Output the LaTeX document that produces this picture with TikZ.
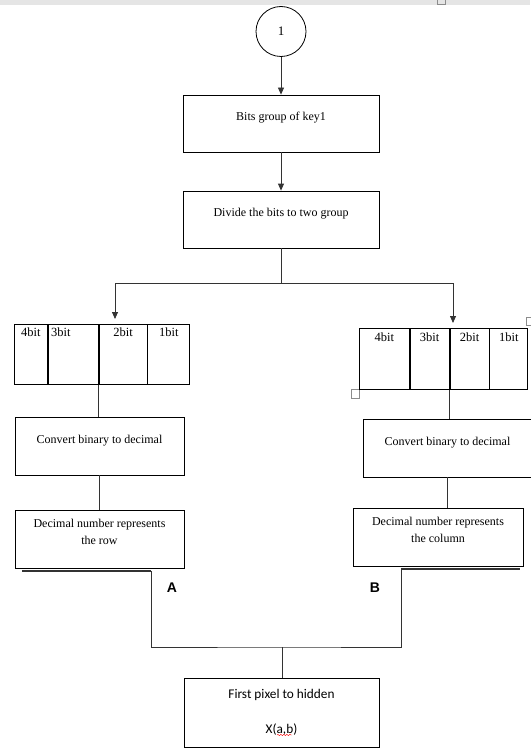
\documentclass[tikz,border=0pt]{standalone}
\usepackage{fontspec}
\setmainfont{Liberation Serif}
\newfontfamily\calibri{Carlito}
\newfontfamily\arialbf{Liberation Sans}
\usetikzlibrary{arrows.meta}
\usetikzlibrary{decorations.pathmorphing}

\begin{document}
\begin{tikzpicture}[x=1pt,y=-1pt,
    box/.style={draw, line width=0.8pt, inner sep=0pt, align=center, font=\fontsize{12}{17}\selectfont, text depth=14pt},
    cell/.style={draw, line width=0.8pt, inner sep=0pt, anchor=north west, minimum height=60pt, text depth=44pt, font=\fontsize{12.5}{14}\selectfont},
    link/.style={line width=0.8pt, draw=black!80},
    arr/.style={link, -{Triangle[width=6pt,length=7pt]}},
    stray/.style={draw=black!45, line width=0.6pt}]
        \useasboundingbox (0,0) rectangle (530,749);
        \fill[black!10] (0,0) rectangle (530,5);
        \draw[stray] (437,-1) rectangle (445,4);
        \draw[stray] (351,389) rectangle (359,398);
        \draw[stray] (526,317) rectangle (532,325);

        % top part
        \node[draw, circle, line width=0.8pt, minimum size=50pt, font=\fontsize{13}{14}\selectfont] (c1) at (281,31.5) {1};
        \node[box, minimum width=196pt, minimum height=57pt] (bits) at (281,123.5) {Bits group of key1};
        \node[box, minimum width=196pt, minimum height=57pt] (divide) at (281,219.5) {Divide the bits to two group};
        \draw[arr] (c1) -- (bits);
        \draw[arr] (bits) -- (divide);

        \coordinate (split) at (281,283);
        \coordinate (lin) at (115,324);
        \coordinate (rin) at (453,328);
        \draw[link] (divide) -- (split);
        \draw[arr, shorten >=5pt] (split) -| (lin);
        \draw[arr, shorten >=5pt] (split) -| (rin);

        % left branch
        \node[cell, minimum width=33pt] (lb4) at (14,324) {4bit};
        \node[cell, minimum width=50pt, text width=44pt, align=left] (lb3) at (lb4.north east) {3bit};
        \node[cell, minimum width=48pt] (lb2) at (lb3.north east) {2bit};
        \node[cell, minimum width=42pt] (lb1) at (lb2.north east) {1bit};
        \node[box, minimum width=169pt, minimum height=58pt] (lconv) at (99.5,446) {Convert binary to decimal};
        \node[box, minimum width=169pt, minimum height=58pt] (lrow) at (99.5,539) {Decimal number represents\\the row};
        \draw[link] (lb2.south west) -- (lb2.south west |- lconv.north);
        \draw[link] (lconv) -- (lrow);

        % right branch
        \node[cell, minimum width=50pt, minimum height=61pt] (rb4) at (359,328) {4bit};
        \node[cell, minimum width=39pt, minimum height=61pt] (rb3) at (rb4.north east) {3bit};
        \node[cell, minimum width=39pt, minimum height=61pt] (rb2) at (rb3.north east) {2bit};
        \node[cell, minimum width=38pt, minimum height=61pt] (rb1) at (rb2.north east) {1bit};
        \node[box, minimum width=169pt, minimum height=58pt] (rconv) at (447.5,448) {Convert binary to decimal};
        \node[box, minimum width=170pt, minimum height=58pt] (rcol) at (438,537) {Decimal number represents\\the column};
        \draw[link] (rb2.south west) -- (rb2.south west |- rconv.north);
        \draw[link] (rconv.south) -- (rconv.south |- rcol.north);

        % join
        \coordinate (A0) at (22,571);
        \coordinate (A1) at (151,571);
        \coordinate (B0) at (520,569);
        \coordinate (B1) at (401,569);
        \coordinate (mid) at (282,647);
        \draw[link, line width=1.4pt] (A0) -- (A1);
        \draw[link, line width=1.4pt] (B1) -- (B0);
        \draw[link] (A1) |- (mid) -| (B1);
        \node[font=\arialbf\bfseries\fontsize{14}{14}\selectfont] (labA) at (172,588) {A};
        \node[font=\arialbf\bfseries\fontsize{14}{14}\selectfont] (labB) at (375,588) {B};

        \node[draw, line width=0.8pt, minimum width=195pt, minimum height=69pt, align=center, font=\calibri\fontsize{13.3}{17}\selectfont] (pixel) at (281.5,712.5) {First pixel to hidden\\[18pt]X(a,b)};
        \draw[link] (mid) -- (mid |- pixel.north);
        \draw[red, decorate, decoration={snake, amplitude=0.7pt, segment length=3pt}] (277,735) -- (292,735);
      \end{tikzpicture}
\end{document}
